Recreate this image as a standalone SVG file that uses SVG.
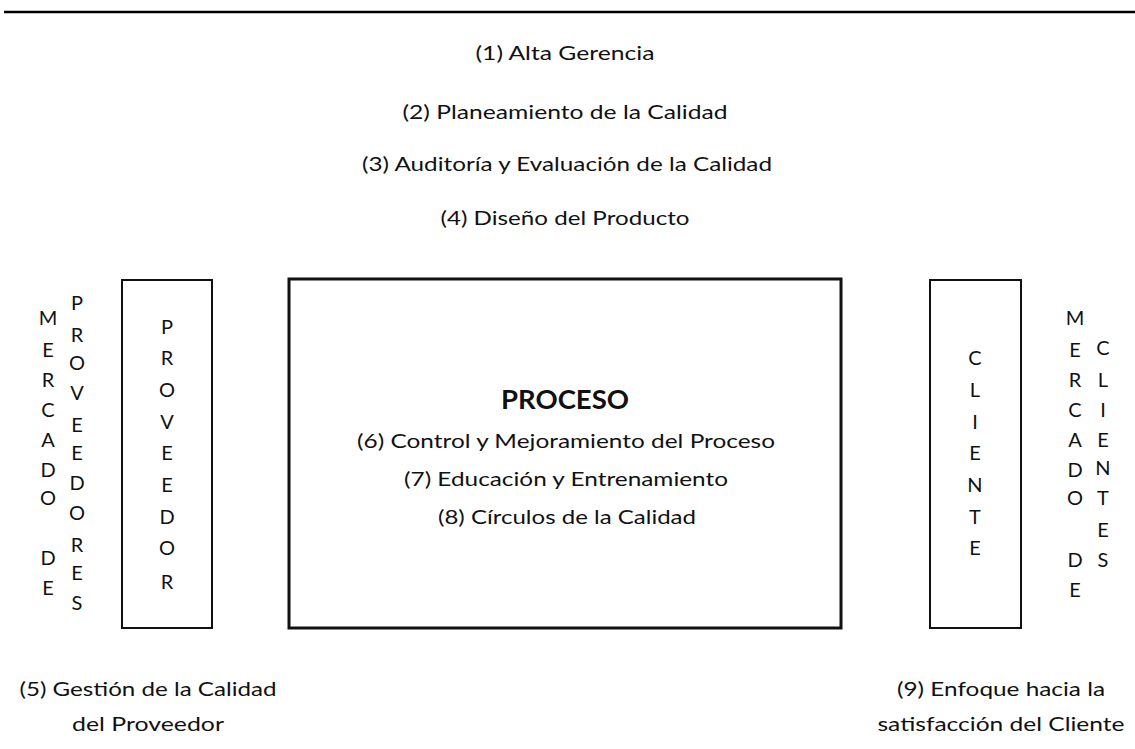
<svg xmlns="http://www.w3.org/2000/svg" width="1135" height="749" viewBox="0 0 1135 749">
<style>
text{font-family:Lato,"Open Sans","Liberation Sans",sans-serif;font-size:20px;fill:#111;text-anchor:middle}
.t{dominant-baseline:auto}
.b{font-weight:bold;font-size:27px}
.box{fill:#fff;stroke:#111;stroke-width:2}
.big{fill:#fff;stroke:#111;stroke-width:3}
</style>
<rect width="1135" height="749" fill="#fff"/>
<line x1="4" y1="12" x2="1135" y2="12" stroke="#000" stroke-width="2.5"/>
<g id="top-labels">
<text x="565" y="60" textLength="179" lengthAdjust="spacingAndGlyphs">(1) Alta Gerencia</text>
<text x="565" y="119" textLength="325" lengthAdjust="spacingAndGlyphs">(2) Planeamiento de la Calidad</text>
<text x="567" y="171" textLength="410" lengthAdjust="spacingAndGlyphs">(3) Auditoría y Evaluación de la Calidad</text>
<text x="565" y="225" textLength="249" lengthAdjust="spacingAndGlyphs">(4) Diseño del Producto</text>
</g>
<g id="mercado-proveedores">
<text x="48" y="325">M</text><text x="48" y="357">E</text><text x="48" y="387">R</text><text x="48" y="417">C</text><text x="48" y="447">A</text><text x="48" y="477">D</text><text x="48" y="505">O</text><text x="48" y="565">D</text><text x="48" y="595">E</text>
<text x="77" y="310">P</text><text x="77" y="342">R</text><text x="77" y="370">O</text><text x="77" y="400">V</text><text x="77" y="432">E</text><text x="77" y="460">E</text><text x="77" y="490">D</text><text x="77" y="520">O</text><text x="77" y="552">R</text><text x="77" y="580">E</text><text x="77" y="610">S</text>
</g>
<g id="proveedor">
<rect class="box" x="122" y="280" width="90" height="348"/>
<text x="167" y="334">P</text><text x="167" y="365">R</text><text x="167" y="397">O</text><text x="167" y="429">V</text><text x="167" y="460">E</text><text x="167" y="492">E</text><text x="167" y="524">D</text><text x="167" y="555">O</text><text x="167" y="589">R</text>
</g>
<g id="proceso">
<rect class="big" x="289" y="279" width="552" height="349"/>
<text class="b" x="565" y="409" textLength="128" lengthAdjust="spacingAndGlyphs">PROCESO</text>
<text x="566" y="448" textLength="418" lengthAdjust="spacingAndGlyphs">(6) Control y Mejoramiento del Proceso</text>
<text x="566" y="486" textLength="324" lengthAdjust="spacingAndGlyphs">(7) Educación y Entrenamiento</text>
<text x="567" y="524" textLength="258" lengthAdjust="spacingAndGlyphs">(8) Círculos de la Calidad</text>
</g>
<g id="cliente">
<rect class="box" x="930" y="280" width="91" height="348"/>
<text x="975" y="365">C</text><text x="975" y="397">L</text><text x="975" y="429">I</text><text x="975" y="460">E</text><text x="975" y="492">N</text><text x="975" y="524">T</text><text x="975" y="555">E</text>
</g>
<g id="mercado-clientes">
<text x="1075" y="325">M</text><text x="1075" y="357">E</text><text x="1075" y="387">R</text><text x="1075" y="417">C</text><text x="1075" y="447">A</text><text x="1075" y="477">D</text><text x="1075" y="505">O</text><text x="1075" y="567">D</text><text x="1075" y="597">E</text>
<text x="1103" y="355">C</text><text x="1103" y="387">L</text><text x="1103" y="417">I</text><text x="1103" y="447">E</text><text x="1103" y="475">N</text><text x="1103" y="505">T</text><text x="1103" y="537">E</text><text x="1103" y="567">S</text>
</g>
<g id="label-5">
<text x="148" y="696" textLength="257" lengthAdjust="spacingAndGlyphs">(5) Gestión de la Calidad</text>
<text x="148" y="731" textLength="152" lengthAdjust="spacingAndGlyphs">del Proveedor</text>
</g>
<g id="label-9">
<text x="1001" y="696" textLength="208" lengthAdjust="spacingAndGlyphs">(9) Enfoque hacia la</text>
<text x="1001" y="731" textLength="247" lengthAdjust="spacingAndGlyphs">satisfacción del Cliente</text>
</g>
<g id="connectors"></g>
</svg>
